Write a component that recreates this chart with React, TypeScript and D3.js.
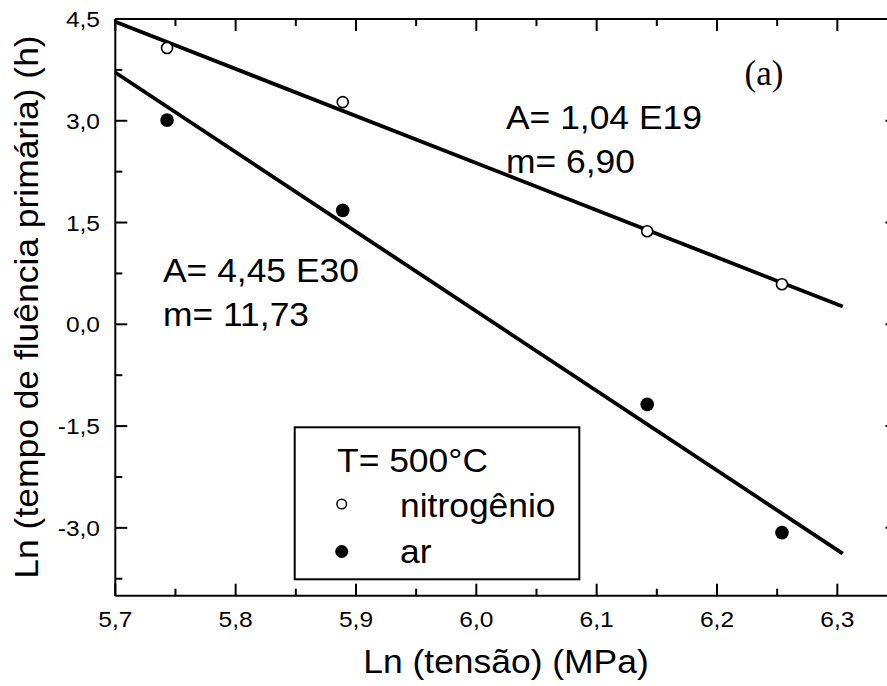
import React from "react";
import * as d3 from "d3";

const lnTensao = [5.743, 5.889, 6.142, 6.254];
const nitrogenio = [4.072, 3.275, 1.372, 0.59];
const ar = [3.01, 1.68, -1.18, -3.07];
const fitRange = [5.7, 6.3045];
const xMajor = [5.7, 5.8, 5.9, 6.0, 6.1, 6.2, 6.3];
const xMinor = [5.75, 5.85, 5.95, 6.05, 6.15, 6.25, 6.35];
const yMajor = [4.5, 3.0, 1.5, 0.0, -1.5, -3.0];
const yMinor = [3.75, 2.25, 0.75, -0.75, -2.25, -3.75];
const legendTitle = "T= 500°C";
const legendLabels = ["nitrogênio", "ar"];
const annN = ["A= 1,04 E19", "m= 6,90"];
const annA = ["A= 4,45 E30", "m= 11,73"];

const W = 887, H = 686;
const L = 115.3, R = 897.5, T = 19, B = 595.7;
const FONT = "'Liberation Sans', Arial, Helvetica, sans-serif";
const SX = 1.09;

function fit(xs: number[], ys: number[]) {
  const mx = d3.mean(xs)!, my = d3.mean(ys)!;
  let sxy = 0, sxx = 0;
  xs.forEach((x, i) => { sxy += (x - mx) * (ys[i] - my); sxx += (x - mx) ** 2; });
  const b = sxy / sxx;
  return (x: number) => my + b * (x - mx);
}

const fmt = (v: number) => v.toFixed(1).replace(".", ",");

function SText({ x, y, size, anchor = "start", children, rot = 0 }: any) {
  return (
    <text transform={`translate(${x},${y}) rotate(${rot}) scale(${SX},1)`} fontSize={size}
      fontFamily={FONT} textAnchor={anchor} fill="#000">{children}</text>
  );
}

export default function App() {
  const x = d3.scaleLinear().domain([5.7, 6.35]).range([L, R]);
  const y = d3.scaleLinear().domain([-4.0, 4.5]).range([B, T]);
  const fN = fit(lnTensao, nitrogenio);
  const fA = fit(lnTensao, ar);
  const line = d3.line<number[]>().x(d => x(d[0])).y(d => y(d[1]));
  const nLine = line(fitRange.map(v => [v, fN(v)]))!;
  const aLine = line(fitRange.map(v => [v, fA(v)]))!;
  const maj = 12, min = 7;
  const big = 32.5;
  return (
    <svg width={W} height={H} style={{ position: "absolute", left: 0, top: 0, background: "#fff" }}>
      <rect width={W} height={H} fill="#fff" />
      <g stroke="#000" strokeWidth={2} fill="none">
        <line x1={L} x2={R} y1={B} y2={B} />
        <line x1={L} x2={R} y1={T} y2={T} />
        <line x1={L} x2={L} y1={T} y2={B} />
        <line x1={R} x2={R} y1={T} y2={B} />
        {xMajor.map(v => (
          <g key={"xm" + v}>
            <line x1={x(v)} x2={x(v)} y1={B} y2={B - maj} />
            <line x1={x(v)} x2={x(v)} y1={T} y2={T + maj} />
          </g>
        ))}
        {xMinor.map(v => (
          <g key={"xn" + v}>
            <line x1={x(v)} x2={x(v)} y1={B} y2={B - min} />
            <line x1={x(v)} x2={x(v)} y1={T} y2={T + min} />
          </g>
        ))}
        {yMajor.map(v => (
          <g key={"ym" + v}>
            <line x1={L} x2={L + maj} y1={y(v)} y2={y(v)} />
            <line x1={R} x2={R - maj} y1={y(v)} y2={y(v)} />
          </g>
        ))}
        {yMinor.map(v => (
          <g key={"yn" + v}>
            <line x1={L} x2={L + min} y1={y(v)} y2={y(v)} />
            <line x1={R} x2={R - min} y1={y(v)} y2={y(v)} />
          </g>
        ))}
      </g>
      {xMajor.map(v => (
        <SText key={"xl" + v} x={x(v)} y={627} size={22.5} anchor="middle">{fmt(v)}</SText>
      ))}
      {yMajor.map(v => (
        <SText key={"yl" + v} x={100} y={y(v) + 8} size={22.5} anchor="end">{fmt(v)}</SText>
      ))}
      <SText x={506} y={673} size={big} anchor="middle">Ln (tensão) (MPa)</SText>
      <SText x={38} y={307} size={big} anchor="middle" rot={-90}>Ln (tempo de fluência primária) (h)</SText>

      <path d={nLine} stroke="#000" strokeWidth={3.8} fill="none" />
      <path d={aLine} stroke="#000" strokeWidth={3.8} fill="none" />

      {lnTensao.map((v, i) => (
        <circle key={"n" + i} cx={x(v)} cy={y(nitrogenio[i])} r={5.5} fill="#fff" stroke="#000" strokeWidth={1.6} />
      ))}
      {lnTensao.map((v, i) => (
        <circle key={"a" + i} cx={x(v)} cy={y(ar[i])} r={6.8} fill="#000" />
      ))}

      <SText x={506} y={129} size={big}>{annN[0]}</SText>
      <SText x={506} y={173} size={big}>{annN[1]}</SText>
      <SText x={163} y={282} size={big}>{annA[0]}</SText>
      <SText x={163} y={326} size={big}>{annA[1]}</SText>
      <text x={764} y={85} fontSize={35} fontFamily="'Liberation Serif', 'Times New Roman', serif" textAnchor="middle">(a)</text>

      <rect x={294.7} y={427.3} width={284.6} height={152} fill="#fff" stroke="#000" strokeWidth={2} />
      <SText x={337} y={472} size={big}>{legendTitle}</SText>
      <circle cx={341.7} cy={504} r={4.8} fill="#fff" stroke="#000" strokeWidth={1.5} />
      <SText x={400} y={517} size={big}>{legendLabels[0]}</SText>
      <circle cx={341.7} cy={551.5} r={6.5} fill="#000" />
      <SText x={400} y={563} size={big}>{legendLabels[1]}</SText>
    </svg>
  );
}
